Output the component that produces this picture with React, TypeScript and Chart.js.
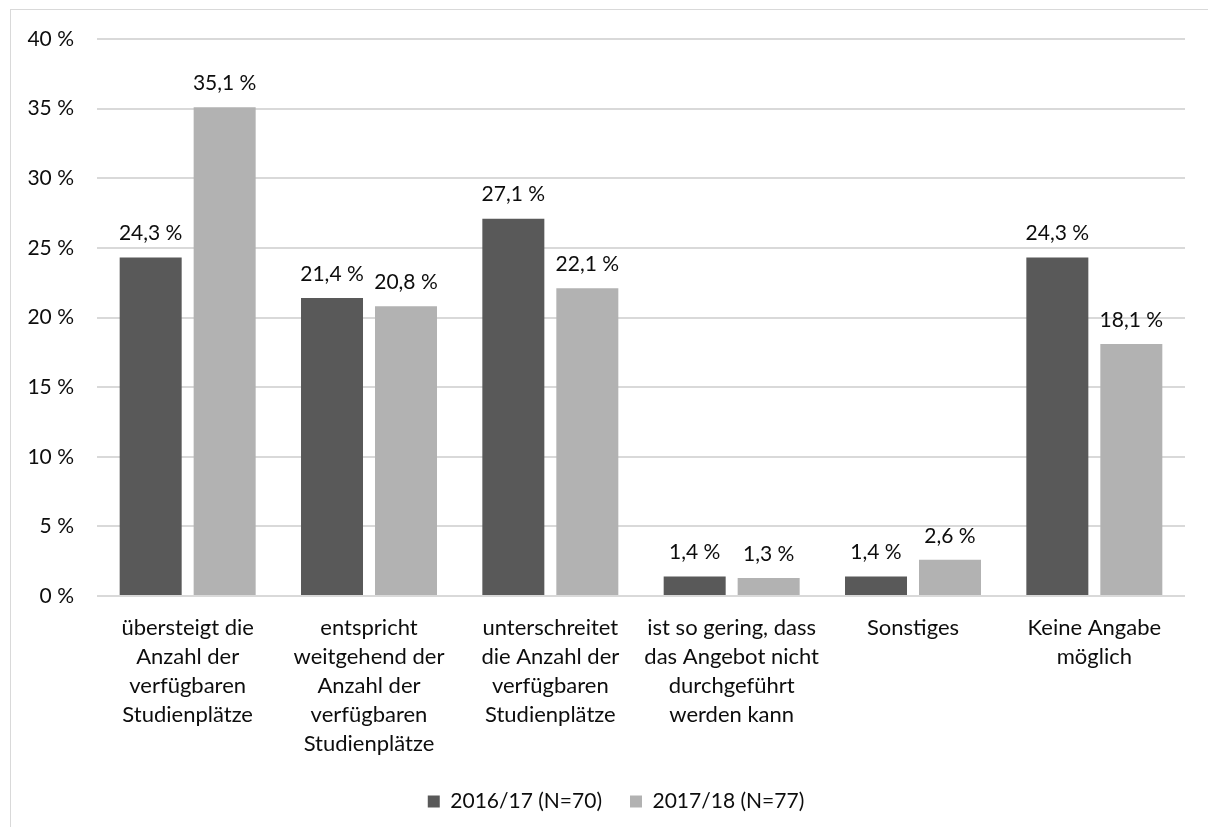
import React, { useEffect, useRef } from "react";
import { Chart, registerables } from "chart.js";

Chart.register(...registerables);

const categories: string[][] = [
  ["übersteigt die", "Anzahl der", "verfügbaren", "Studienplätze"],
  ["entspricht", "weitgehend der", "Anzahl der", "verfügbaren", "Studienplätze"],
  ["unterschreitet", "die Anzahl der", "verfügbaren", "Studienplätze"],
  ["ist so gering, dass", "das Angebot nicht", "durchgeführt", "werden kann"],
  ["Sonstiges"],
  ["Keine Angabe", "möglich"],
];
const series2016 = [24.3, 21.4, 27.1, 1.4, 1.4, 24.3];
const series2017 = [35.1, 20.8, 22.1, 1.3, 2.6, 18.1];
const seriesNames = ["2016/17 (N=70)", "2017/18 (N=77)"];
const yTicks = [0, 5, 10, 15, 20, 25, 30, 35, 40];

const FONT = "Lato";
const FONT_SIZE = 21;
const TEXT = "#0d0d0d";
const DARK = "#595959";
const LIGHT = "#b2b2b2";

const fmt = (v: number) => v.toFixed(1).replace(".", ",") + " %";

const valueLabels = {
  id: "valueLabels",
  afterDatasetsDraw(chart: any) {
    const ctx = chart.ctx;
    ctx.save();
    ctx.font = `${FONT_SIZE}px ${FONT}`;
    ctx.fillStyle = TEXT;
    ctx.textAlign = "center";
    ctx.textBaseline = "middle";
    chart.data.datasets.forEach((ds: any, di: number) => {
      const meta = chart.getDatasetMeta(di);
      meta.data.forEach((bar: any, i: number) => {
        ctx.fillText(fmt(ds.data[i]), bar.x, bar.y - 24);
      });
    });
    ctx.restore();
  },
};

const legendShift = {
  id: "legendShift",
  afterLayout(chart: any) {
    if (chart.legend) {
      chart.legend.left += 18;
      chart.legend.right += 18;
    }
  },
};

export default function App() {
  const ref = useRef<HTMLCanvasElement | null>(null);
  useEffect(() => {
    if (!ref.current) return;
    const chart = new Chart(ref.current, {
      type: "bar",
      data: {
        labels: categories,
        datasets: [
          { label: seriesNames[0], data: series2016, backgroundColor: DARK },
          { label: seriesNames[1], data: series2017, backgroundColor: LIGHT },
        ],
      },
      options: {
        animation: false,
        responsive: false,
        maintainAspectRatio: false,
        layout: { padding: { left: 0, right: 23, top: 29, bottom: 5 } },
        datasets: {
          bar: { categoryPercentage: 0.816, barPercentage: 0.838 },
        } as any,
        plugins: {
          tooltip: { enabled: false },
          legend: {
            position: "bottom",
            labels: {
              boxWidth: 12,
              boxHeight: 12,
              padding: 28,
              color: TEXT,
              font: { family: FONT, size: FONT_SIZE },
            },
          },
        },
        scales: {
          x: {
            grid: { display: false },
            border: { display: false },
            ticks: {
              color: TEXT,
              font: { family: FONT, size: 22, lineHeight: 29 / 22 },
              padding: 9,
              maxRotation: 0,
              autoSkip: false,
            },
            afterFit(scale: any) {
              scale.height = 167;
              scale.paddingLeft = 0;
              scale.paddingRight = 0;
            },
          },
          y: {
            min: 0,
            max: 40,
            afterBuildTicks(scale: any) {
              scale.ticks = yTicks.map((v) => ({ value: v }));
            },
            grid: { color: "#d9d9d9", lineWidth: 2, drawTicks: false },
            border: { display: false },
            ticks: {
              color: TEXT,
              font: { family: FONT, size: FONT_SIZE },
              padding: 23,
              callback: (v: any) => `${v} %`,
            },
            afterFit(scale: any) {
              scale.width = 86;
              scale.paddingTop = 0;
              scale.paddingBottom = 0;
            },
          },
        },
      },
      plugins: [valueLabels, legendShift],
    });
    return () => chart.destroy();
  }, []);

  return (
    <div
      style={{
        position: "absolute",
        left: 10,
        top: 9,
        width: 1198,
        height: 818,
        borderTop: "1px solid #d9d9d9",
        borderLeft: "1px solid #d9d9d9",
        boxSizing: "border-box",
        background: "#fff",
      }}
    >
      <canvas ref={ref} width={1197} height={817} style={{ display: "block" }} />
    </div>
  );
}
